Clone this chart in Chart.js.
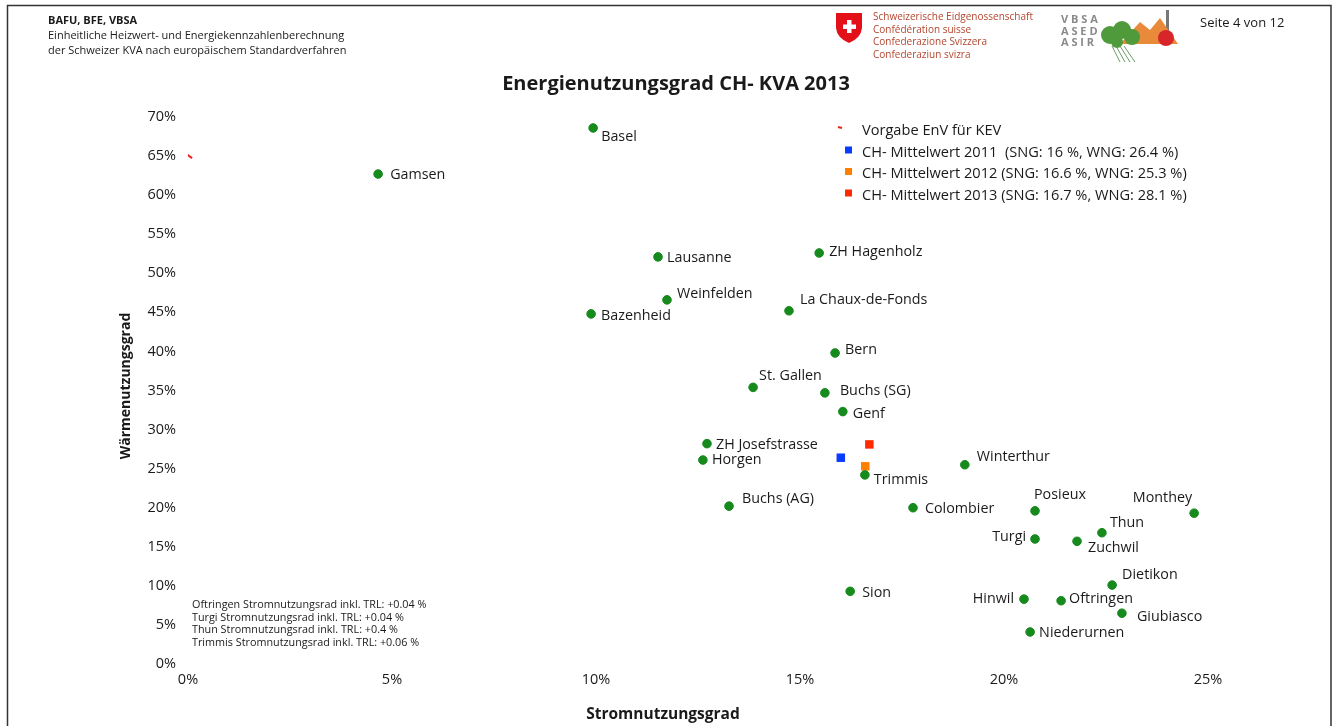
<!DOCTYPE html>
<html>
<head>
<meta charset="utf-8">
<script src="https://cdn.jsdelivr.net/npm/chart.js@4.4.1/dist/chart.umd.min.js"></script>
<style>
  html, body { margin: 0; padding: 0; background: #fff; }
  #wrap { width: 1338px; height: 726px; position: relative; }
</style>
</head>
<body>
<div id="wrap"><canvas id="chart"></canvas></div>
<script>
// KVA 2013: Stromnutzungsgrad (x) und Wärmenutzungsgrad (y), in %
const kvaNames = ["Basel", "Gamsen", "Lausanne", "ZH Hagenholz", "Weinfelden", "Bazenheid",
    "La Chaux-de-Fonds", "Bern", "St. Gallen", "Buchs (SG)", "Genf", "ZH Josefstrasse",
    "Horgen", "Trimmis", "Winterthur", "Buchs (AG)", "Colombier", "Posieux", "Monthey",
    "Thun", "Turgi", "Zuchwil", "Dietikon", "Sion", "Hinwil", "Oftringen", "Giubiasco",
    "Niederurnen"];
const kvaStrom = [9.93, 4.66, 11.52, 15.47, 11.74, 9.88, 14.73, 15.86, 13.85, 15.61, 16.05, 12.72,
    12.62, 16.59, 19.04, 13.26, 17.77, 20.76, 24.66, 22.40, 20.76, 21.79, 22.65, 16.23, 20.49,
    21.40, 22.89, 20.64];
const kvaWaerme = [68.6, 62.7, 52.1, 52.6, 46.6, 44.8, 45.2, 39.8, 35.4, 34.7, 32.3, 28.2,
    26.1, 24.2, 25.5, 20.2, 20.0, 19.6, 19.3, 16.8, 16.0, 15.7, 10.1, 9.3, 8.3, 8.1, 6.5, 4.1];

// CH-Mittelwerte
const mittelLabels = ["CH- Mittelwert 2011  (SNG: 16 %, WNG: 26.4 %)",
    "CH- Mittelwert 2012 (SNG: 16.6 %, WNG: 25.3 %)",
    "CH- Mittelwert 2013 (SNG: 16.7 %, WNG: 28.1 %)"];
const mittelStrom = [16.0, 16.6, 16.7];
const mittelWaerme = [26.4, 25.3, 28.1];

// Vorgabe EnV für KEV
const vorgabeLabel = "Vorgabe EnV für KEV";
const vorgabeStrom = [0.03];
const vorgabeWaerme = [65];

const xTicks = [0, 5, 10, 15, 20, 25];
const yTicks = [0, 5, 10, 15, 20, 25, 30, 35, 40, 45, 50, 55, 60, 65, 70];

const notes = ["Oftringen Stromnutzungsrad inkl. TRL: +0.04 %",
    "Turgi Stromnutzungsrad inkl. TRL: +0.04 %",
    "Thun Stromnutzungsrad inkl. TRL: +0.4 %",
    "Trimmis Stromnutzungsrad inkl. TRL: +0.06 %"];

// label placement relative to the point: [dx, dy, align]
const labelPos = [[8, 9], [12, 1], [9, 1], [10, -1], [10, -6], [10, 2], [11, -11], [10, -3],
    [6, -11], [15, -2], [10, 2], [9, 1], [9, 0], [9, 5], [12, -8], [13, -7], [12, 1],
    [-1, -16], [-2, -15, "right"], [8, -10], [-9, -2, "right"], [11, 7], [10, -10], [12, 2],
    [-10, 0, "right"], [8, -2], [15, 4], [9, 1]];

const FONT = "'Open Sans', 'Noto Sans', sans-serif";
const TEXT = "#1a1a1a";
const GREEN = "#168a1c";
const mittelColors = ["#0a3cff", "#ff7f00", "#ff2a00"];

function pts(xs, ys) {
    return xs.map((x, i) => ({ x: x, y: ys[i] }));
}

const datasets = [{
    label: "KVA",
    data: pts(kvaStrom, kvaWaerme),
    backgroundColor: GREEN,
    borderColor: GREEN,
    pointRadius: 4.3,
    pointHoverRadius: 4.3
}, {
    label: vorgabeLabel,
    data: pts(vorgabeStrom, vorgabeWaerme),
    pointStyle: "line",
    rotation: 35,
    borderColor: "#e8231a",
    backgroundColor: "#e8231a",
    borderWidth: 2,
    pointRadius: 3.5
}];
mittelLabels.forEach((lab, i) => {
    datasets.push({
        label: lab,
        data: [{ x: mittelStrom[i], y: mittelWaerme[i] }],
        pointStyle: "rect",
        backgroundColor: mittelColors[i],
        borderColor: mittelColors[i],
        borderWidth: 0,
        pointRadius: 6,
        pointHoverRadius: 6
    });
});

const pagePlugin = {
    id: "page",
    beforeDraw(chart) {
        const ctx = chart.ctx;
        ctx.save();
        ctx.fillStyle = "#fff";
        ctx.fillRect(0, 0, chart.width, chart.height);

        // frame
        ctx.strokeStyle = "#333";
        ctx.lineWidth = 1.5;
        ctx.beginPath();
        ctx.moveTo(7.5, 726);
        ctx.lineTo(7.5, 5.5);
        ctx.lineTo(1331, 5.5);
        ctx.lineTo(1331, 726);
        ctx.stroke();

        // header left
        ctx.fillStyle = TEXT;
        ctx.textBaseline = "middle";
        ctx.textAlign = "left";
        ctx.font = "bold 11px " + FONT;
        ctx.fillText("BAFU, BFE, VBSA", 48, 21);
        ctx.font = "11px " + FONT;
        ctx.fillText("Einheitliche Heizwert- und Energiekennzahlenberechnung", 48, 36);
        ctx.fillText("der Schweizer KVA nach europäischem Standardverfahren", 48, 51);

        // Swiss shield
        ctx.fillStyle = "#e3101a";
        ctx.beginPath();
        ctx.moveTo(836, 13);
        ctx.lineTo(862, 13);
        ctx.lineTo(862, 28);
        ctx.quadraticCurveTo(861, 38, 849, 43);
        ctx.quadraticCurveTo(837, 38, 836, 28);
        ctx.closePath();
        ctx.fill();
        ctx.fillStyle = "#fff";
        ctx.fillRect(847, 20, 4.5, 13);
        ctx.fillRect(843, 24.5, 13, 4.5);

        ctx.fillStyle = "#b4452e";
        ctx.font = "10px " + FONT;
        ["Schweizerische Eidgenossenschaft", "Confédération suisse",
            "Confederazione Svizzera", "Confederaziun svizra"].forEach((t, i) => {
            ctx.fillText(t, 873, 17 + i * 12.8);
        });

        // VBSA logo
        ctx.fillStyle = "#8a8a8a";
        ctx.font = "bold 11px " + FONT;
        ["V B S A", "A S E D", "A S I R"].forEach((t, i) => {
            ctx.fillText(t, 1061, 20 + i * 11.5);
        });
        ctx.fillStyle = "#777";
        ctx.fillRect(1166, 10, 3, 26);
        ctx.fillStyle = "#e88a3a";
        ctx.beginPath();
        ctx.moveTo(1120, 44); ctx.lineTo(1140, 22); ctx.lineTo(1150, 30);
        ctx.lineTo(1160, 18); ctx.lineTo(1178, 44); ctx.closePath(); ctx.fill();
        ctx.fillStyle = "#d8252a";
        ctx.beginPath(); ctx.arc(1166, 38, 8, 0, Math.PI * 2); ctx.fill();
        ctx.fillStyle = "#4f9a3a";
        [[1110, 35, 9], [1122, 30, 9], [1132, 37, 8], [1117, 42, 6]].forEach(c => {
            ctx.beginPath(); ctx.arc(c[0], c[1], c[2], 0, Math.PI * 2); ctx.fill();
        });
        ctx.strokeStyle = "#6a9a6a";
        ctx.lineWidth = 1;
        for (let k = 0; k < 4; k++) {
            ctx.beginPath();
            ctx.moveTo(1112 + k * 4, 46);
            ctx.lineTo(1120 + k * 5, 62);
            ctx.stroke();
        }

        ctx.fillStyle = TEXT;
        ctx.font = "13px " + FONT;
        ctx.fillText("Seite 4 von 12", 1200, 23);

        // chart title
        ctx.textAlign = "center";
        ctx.font = "bold 20px " + FONT;
        ctx.fillText("Energienutzungsgrad CH- KVA 2013", 676, 84);

        // axis titles
        ctx.font = "bold 15.5px " + FONT;
        ctx.fillText("Stromnutzungsgrad", 663, 715);
        ctx.save();
        ctx.translate(126, 386);
        ctx.rotate(-Math.PI / 2);
        ctx.font = "bold 14px " + FONT;
        ctx.fillText("Wärmenutzungsgrad", 0, 0);
        ctx.restore();
        ctx.restore();
    },
    afterDatasetsDraw(chart) {
        const ctx = chart.ctx;
        ctx.save();
        ctx.fillStyle = TEXT;
        ctx.textBaseline = "middle";

        // point labels
        ctx.font = "14.3px " + FONT;
        const meta = chart.getDatasetMeta(0);
        meta.data.forEach((el, i) => {
            const p = labelPos[i];
            ctx.textAlign = p[2] || "left";
            ctx.fillText(kvaNames[i], el.x + p[0], el.y + p[1]);
        });

        // legend (without KVA dataset)
        ctx.textAlign = "left";
        ctx.font = "14.6px " + FONT;
        for (let d = 1; d < chart.data.datasets.length; d++) {
            const ds = chart.data.datasets[d];
            const y = 131 + (d - 1) * 21.5;
            if (ds.pointStyle === "line") {
                ctx.strokeStyle = ds.borderColor;
                ctx.lineWidth = 2;
                ctx.beginPath();
                ctx.moveTo(838, y - 4);
                ctx.lineTo(842, y - 3);
                ctx.stroke();
            } else {
                ctx.fillStyle = ds.backgroundColor;
                ctx.fillRect(845, y - 6, 7, 7);
            }
            ctx.fillStyle = TEXT;
            ctx.fillText(ds.label, 862, y);
        }

        // notes
        ctx.font = "10.8px " + FONT;
        notes.forEach((t, i) => ctx.fillText(t, 192, 605 + i * 12.5));
        ctx.restore();
    }
};

new Chart(document.getElementById("chart"), {
    type: "scatter",
    data: { datasets: datasets },
    options: {
        responsive: true,
        maintainAspectRatio: false,
        animation: false,
        events: [],
        layout: { padding: { left: 112, right: 130, top: 117, bottom: 0 } },
        plugins: {
            legend: { display: false },
            tooltip: { enabled: false },
            title: { display: false }
        },
        scales: {
            x: {
                type: "linear",
                min: 0,
                max: 25,
                afterBuildTicks: s => { s.ticks = xTicks.map(v => ({ value: v })); },
                afterFit: s => { s.height = 62; },
                grid: { display: false, drawTicks: false },
                border: { display: false },
                ticks: {
                    padding: 7,
                    color: TEXT,
                    font: { family: FONT, size: 14.5 },
                    callback: v => v + "%"
                },
                title: { display: false }
            },
            y: {
                type: "linear",
                min: 0,
                max: 70,
                afterBuildTicks: s => { s.ticks = yTicks.map(v => ({ value: v })); },
                afterFit: s => { s.width = 76; },
                grid: { display: false, drawTicks: false },
                border: { display: false },
                ticks: {
                    padding: 12,
                    color: TEXT,
                    font: { family: FONT, size: 14.5 },
                    callback: v => v + "%"
                },
                title: { display: false }
            }
        }
    },
    plugins: [pagePlugin]
});
</script>
</body>
</html>
